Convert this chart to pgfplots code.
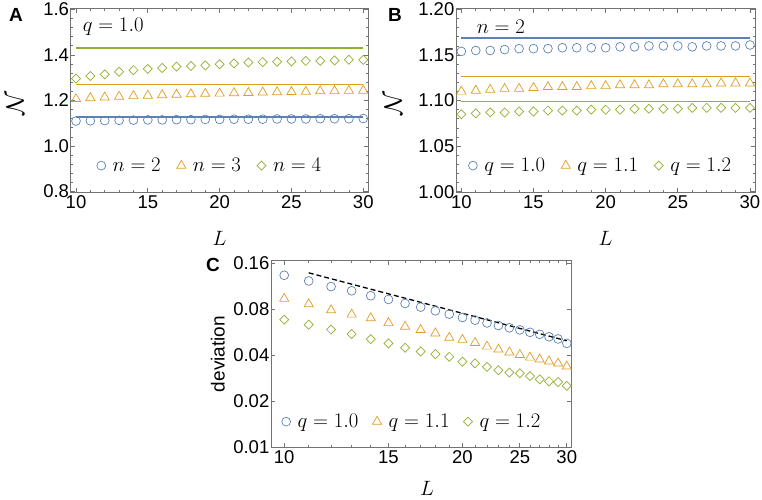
\documentclass[border=0pt]{standalone}
\usepackage{fontspec}
\setmainfont{Liberation Sans}
\usepackage{pgfplots}
\pgfplotsset{compat=1.18}
\definecolor{mblue}{RGB}{94,129,181}
\definecolor{morange}{RGB}{225,156,36}
\definecolor{mgreen}{RGB}{143,176,50}
\definecolor{frame}{RGB}{115,115,115}
\pgfplotsset{
  mystyle/.style={
    scale only axis,
    axis line style={draw=frame, line width=0.9pt},
    every tick/.style={frame, line width=0.8pt},
    major tick length=4.5pt, minor tick length=2.5pt,
    tick align=inside,
    ticklabel style={font=\fontsize{18.5}{20}\selectfont},
    yticklabel style={inner xsep=1.5pt},
    xticklabel style={inner ysep=3pt},
    legend style={draw=none, fill=none, font=\fontsize{21}{24}\selectfont,
      legend columns=3, inner sep=0pt,
      /tikz/every odd column/.append style={column sep=5pt},
      /tikz/every even column/.append style={column sep=14pt}},
    legend image code/.code={\draw[mark repeat=2,mark phase=2,##1] plot coordinates {(0pt,0pt)(5pt,0pt)(10pt,0pt)};},
  },
  sB/.style={only marks, mark=o, mark size=4.4pt, mark options={draw=mblue, line width=0.7pt}},
  sO/.style={only marks, mark=triangle, mark size=5.3pt, mark options={draw=morange, line width=0.7pt}},
  sG/.style={only marks, mark=square, mark size=3.2pt, mark options={draw=mgreen, rotate=45, line width=0.7pt}},
}
\begin{document}
\begin{tikzpicture}
\useasboundingbox (0,0) rectangle (762pt,499pt);
% ---------------- Panel A
\begin{axis}[mystyle,
  at={(70.7pt,306.7pt)}, anchor=south west,
  width=297.6pt, height=184pt,
  xmin=9.63, xmax=30.35, ymin=0.797, ymax=1.605,
  xtick={10,15,20,25,30}, xticklabels={10,15,20,25,30},
  ytick={0.8,1.0,1.2,1.4,1.6}, yticklabels={0.8,1.0,1.2,1.4,1.6},
  minor x tick num=4, minor y tick num=4,
  every axis x label/.style={at={(axis description cs:0.5,-0.248)}, anchor=center, font=\fontsize{22}{24}\selectfont},
  every axis y label/.style={at={(axis description cs:-0.187,0.485)}, rotate=90, anchor=center, font=\fontsize{23}{24}\selectfont},
  xlabel={$L$}, ylabel={$\mathcal{N}$},
  legend style={at={(axis description cs:0.104,0.145)}, anchor=west, xshift=-5pt},
]
\addplot[mgreen, line width=1.5pt, forget plot] coordinates {(10,1.430)(30,1.430)};
\addplot[morange, line width=1.5pt, forget plot] coordinates {(10,1.270)(30,1.270)};
\addplot[mblue, line width=1.5pt, forget plot] coordinates {(10,1.127)(30,1.127)};
\addplot[sB] coordinates {(10,1.110)(11,1.111)(12,1.112)(13,1.113)(14,1.114)(15,1.115)(16,1.115)(17,1.116)(18,1.116)(19,1.117)(20,1.117)(21,1.118)(22,1.118)(23,1.118)(24,1.119)(25,1.119)(26,1.119)(27,1.120)(28,1.120)(29,1.120)(30,1.121)};
\addplot[sO] coordinates {(10,1.207)(11,1.211)(12,1.214)(13,1.217)(14,1.220)(15,1.222)(16,1.224)(17,1.226)(18,1.228)(19,1.230)(20,1.231)(21,1.233)(22,1.234)(23,1.236)(24,1.237)(25,1.238)(26,1.239)(27,1.241)(28,1.242)(29,1.243)(30,1.244)};
\addplot[sG] coordinates {(10,1.296)(11,1.308)(12,1.315)(13,1.326)(14,1.333)(15,1.339)(16,1.343)(17,1.349)(18,1.352)(19,1.354)(20,1.359)(21,1.363)(22,1.367)(23,1.369)(24,1.370)(25,1.372)(26,1.374)(27,1.374)(28,1.376)(29,1.379)(30,1.379)};
\legend{$n=2$,$n=3$,$n=4$}
\node[anchor=west, inner sep=0pt, font=\fontsize{21}{24}\selectfont] at (axis description cs:0.040,0.90) {$q=1.0$};
\end{axis}
% ---------------- Panel B
\begin{axis}[mystyle,
  at={(456pt,306.7pt)}, anchor=south west,
  width=299pt, height=184pt,
  xmin=9.63, xmax=30.35, ymin=0.9993, ymax=1.2013,
  xtick={10,15,20,25,30}, xticklabels={10,15,20,25,30},
  ytick={1.0,1.05,1.1,1.15,1.2}, yticklabels={1.00,1.05,1.10,1.15,1.20},
  minor x tick num=4, minor y tick num=4,
  every axis x label/.style={at={(axis description cs:0.5,-0.248)}, anchor=center, font=\fontsize{22}{24}\selectfont},
  every axis y label/.style={at={(axis description cs:-0.21,0.484)}, rotate=90, anchor=center, font=\fontsize{23}{24}\selectfont},
  xlabel={$L$}, ylabel={$\mathcal{N}$},
  legend style={at={(axis description cs:0.058,0.145)}, anchor=west, xshift=-5pt},
]
\addplot[mblue, line width=1.5pt, forget plot] coordinates {(10,1.1685)(30,1.1685)};
\addplot[morange, line width=1.5pt, forget plot] coordinates {(10,1.1266)(30,1.1266)};
\addplot[mgreen, line width=1.5pt, forget plot] coordinates {(10,1.0990)(30,1.0990)};
\addplot[sB] coordinates {(10,1.154)(11,1.155)(12,1.155)(13,1.156)(14,1.157)(15,1.157)(16,1.157)(17,1.158)(18,1.158)(19,1.158)(20,1.158)(21,1.159)(22,1.159)(23,1.160)(24,1.160)(25,1.160)(26,1.159)(27,1.160)(28,1.160)(29,1.160)(30,1.161)};
\addplot[sO] coordinates {(10,1.110)(11,1.111)(12,1.112)(13,1.113)(14,1.113)(15,1.114)(16,1.115)(17,1.115)(18,1.115)(19,1.116)(20,1.116)(21,1.117)(22,1.117)(23,1.117)(24,1.118)(25,1.118)(26,1.118)(27,1.118)(28,1.119)(29,1.119)(30,1.119)};
\addplot[sG] coordinates {(10,1.085)(11,1.086)(12,1.087)(13,1.087)(14,1.088)(15,1.088)(16,1.089)(17,1.089)(18,1.089)(19,1.090)(20,1.090)(21,1.090)(22,1.091)(23,1.091)(24,1.091)(25,1.091)(26,1.092)(27,1.092)(28,1.092)(29,1.092)(30,1.092)};
\legend{$q=1.0$,$q=1.1$,$q=1.2$}
\node[anchor=west, inner sep=0pt, font=\fontsize{21}{24}\selectfont] at (axis description cs:0.069,0.90) {$n=2$};
\end{axis}
% ---------------- Panel C
\begin{axis}[mystyle,
  at={(271pt,51.3pt)}, anchor=south west,
  width=300pt, height=187.4pt,
  xmode=log, ymode=log,
  xmin=9.5, xmax=30.5, ymin=0.0099, ymax=0.168,
  xtick={10,15,20,25,30}, xticklabels={10,15,20,25,30},
  minor xtick={11,12,13,14,16,17,18,19,21,22,23,24,26,27,28,29},
  ytick={0.01,0.02,0.04,0.08,0.16}, yticklabels={0.01,0.02,0.04,0.08,0.16},
  every axis x label/.style={at={(axis description cs:0.52,-0.217)}, anchor=center, font=\fontsize{22}{24}\selectfont},
  every axis y label/.style={at={(axis description cs:-0.177,0.5)}, rotate=90, anchor=center, font=\fontsize{19}{22}\selectfont},
  xlabel={$L$}, ylabel={deviation},
  legend style={at={(axis description cs:0.052,0.139)}, anchor=west, xshift=-5pt,
    /tikz/every even column/.append style={column sep=12pt}},
]
\addplot[black, dash pattern=on 5pt off 3pt, line width=1.3pt, forget plot] coordinates {(11,0.139)(30,0.0498)};
\addplot[sB] coordinates {(10,0.134)(11,0.123)(12,0.113)(13,0.106)(14,0.0984)(15,0.0930)(16,0.0875)(17,0.0828)(18,0.0783)(19,0.0745)(20,0.0708)(21,0.0680)(22,0.0652)(23,0.0627)(24,0.0606)(25,0.0587)(26,0.0566)(27,0.0549)(28,0.0529)(29,0.0512)(30,0.0479)};
\addplot[sO] coordinates {(10,0.0940)(11,0.0867)(12,0.0791)(13,0.0741)(14,0.0701)(15,0.0652)(16,0.0617)(17,0.0587)(18,0.0558)(19,0.0522)(20,0.0506)(21,0.0483)(22,0.0457)(23,0.0437)(24,0.0418)(25,0.0403)(26,0.0387)(27,0.0376)(28,0.0365)(29,0.0354)(30,0.0338)};
\addplot[sG] coordinates {(10,0.0686)(11,0.0635)(12,0.0590)(13,0.0552)(14,0.0511)(15,0.0479)(16,0.0448)(17,0.0424)(18,0.0407)(19,0.0391)(20,0.0363)(21,0.0354)(22,0.0336)(23,0.0319)(24,0.0308)(25,0.0305)(26,0.0292)(27,0.0278)(28,0.0270)(29,0.0267)(30,0.0252)};
\legend{$q=1.0$,$q=1.1$,$q=1.2$}
\end{axis}
% panel letters
\node[font=\fontsize{19}{20}\selectfont\bfseries] at (16pt,484pt) {A};
\node[font=\fontsize{19}{20}\selectfont\bfseries] at (395pt,484pt) {B};
\node[font=\fontsize{19}{20}\selectfont\bfseries] at (213pt,234pt) {C};
\end{tikzpicture}
\end{document}
